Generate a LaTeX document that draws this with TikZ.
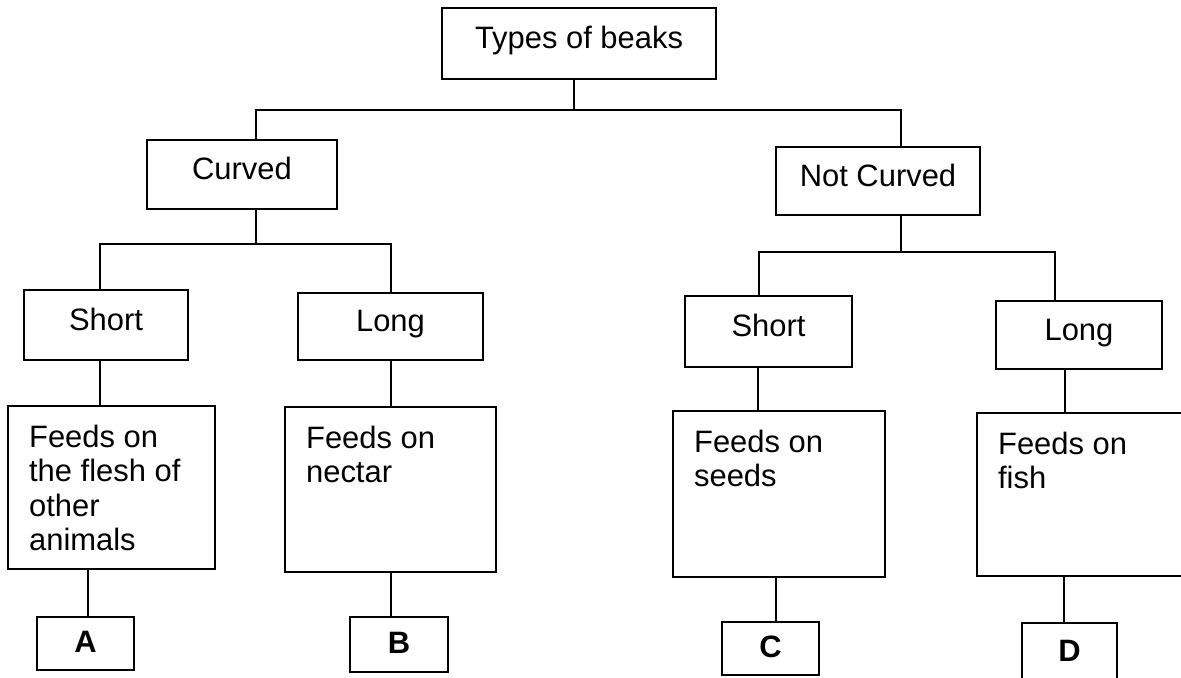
\documentclass[tikz,border=0pt]{standalone}
\usepackage{fontspec}
\setmainfont{Liberation Sans}
\newcommand{\beakfont}{\fontsize{17.6pt}{19.5pt}\selectfont}
\tikzset{
  box/.style  = {draw, line width=1.4pt, inner sep=0pt, align=center, font=\beakfont,
                 text height=0.44cm, text depth=0.24cm},
  link/.style = {line width=1.4pt},
}

\begin{document}
\begin{tikzpicture}[
    x=0.02cm, y=-0.02cm,
    feedbox/.style={box},
    feedtext/.style={anchor=north west, align=left, inner xsep=0.44cm, inner ysep=0.4cm, font=\beakfont},
    letterbox/.style={box, font=\beakfont\bfseries, text depth=0.08cm}
]
\useasboundingbox (0,0) rectangle (1181,677);

% top of the tree
\node[box, minimum width=5.48cm, minimum height=1.42cm] (types) at (579,43.5) {Types of beaks};

\node[box, minimum width=3.80cm, minimum height=1.38cm] (curved) at (242,174.5) {Curved};
\node[box, minimum width=4.08cm, minimum height=1.36cm] (notcurved) at (878,181) {Not Curved};

\node[box, minimum width=3.28cm, minimum height=1.40cm] (shortL) at (106,325) {Short};
\node[box, minimum width=3.70cm, minimum height=1.34cm] (longL) at (390.5,326.5) {Long};
\node[box, minimum width=3.34cm, minimum height=1.42cm] (shortR) at (768.5,331.5) {Short};
\node[box, minimum width=3.32cm, minimum height=1.36cm] (longR) at (1079,335) {Long};

% what each beak feeds on
\node[feedbox, minimum width=4.14cm, minimum height=3.26cm] (flesh) at (111.5,487.5) {};
\node[feedbox, minimum width=4.22cm, minimum height=3.30cm] (nectar) at (390.5,489.5) {};
\node[feedbox, minimum width=4.24cm, minimum height=3.32cm] (seeds) at (779,494) {};
\node[feedbox, minimum width=4.46cm, minimum height=3.26cm] (fish) at (1088.5,494.5) {};

\node[feedtext] (fleshtxt) at (flesh.north west) {Feeds on\\the flesh of\\other\\animals};
\node[feedtext] (nectartxt) at (nectar.north west) {Feeds on\\nectar};
\node[feedtext] (seedstxt) at (seeds.north west) {Feeds on\\seeds};
\node[feedtext] (fishtxt) at (fish.north west) {Feeds on\\fish};

\node[letterbox, minimum width=1.94cm, minimum height=1.06cm] (birdA) at (85.5,643.5) {A};
\node[letterbox, minimum width=1.96cm, minimum height=1.10cm] (birdB) at (399,644.5) {B};
\node[letterbox, minimum width=1.94cm, minimum height=1.06cm] (birdC) at (770.5,648.5) {C};
\node[letterbox, minimum width=1.90cm, minimum height=1.18cm] (birdD) at (1069.5,652.5) {D};

% forks
\coordinate (fork1) at (574,110);
\coordinate (fork2) at (256,244);
\coordinate (fork3) at (901,252);

\draw[link] (types.south -| fork1) -- (fork1);
\draw[link] (curved.north -| fork2) |- (fork1) -| (notcurved.north -| fork3);

\draw[link] (curved.south -| fork2) -- (fork2);
\draw[link] (shortL.north -| 100,0) |- (fork2) -| (longL.north -| 391,0);

\draw[link] (notcurved.south -| fork3) -- (fork3);
\draw[link] (shortR.north -| 759,0) |- (fork3) -| (longR.north -| 1055,0);

% stems down to the answers
\foreach \parent/\child/\x in {shortL/flesh/100, longL/nectar/391, shortR/seeds/758, longR/fish/1065,
                               flesh/birdA/88, nectar/birdB/391, seeds/birdC/776, fish/birdD/1064}
  \draw[link] (\parent.south -| \x,0) -- (\child.north -| \x,0);

\end{tikzpicture}
\end{document}
